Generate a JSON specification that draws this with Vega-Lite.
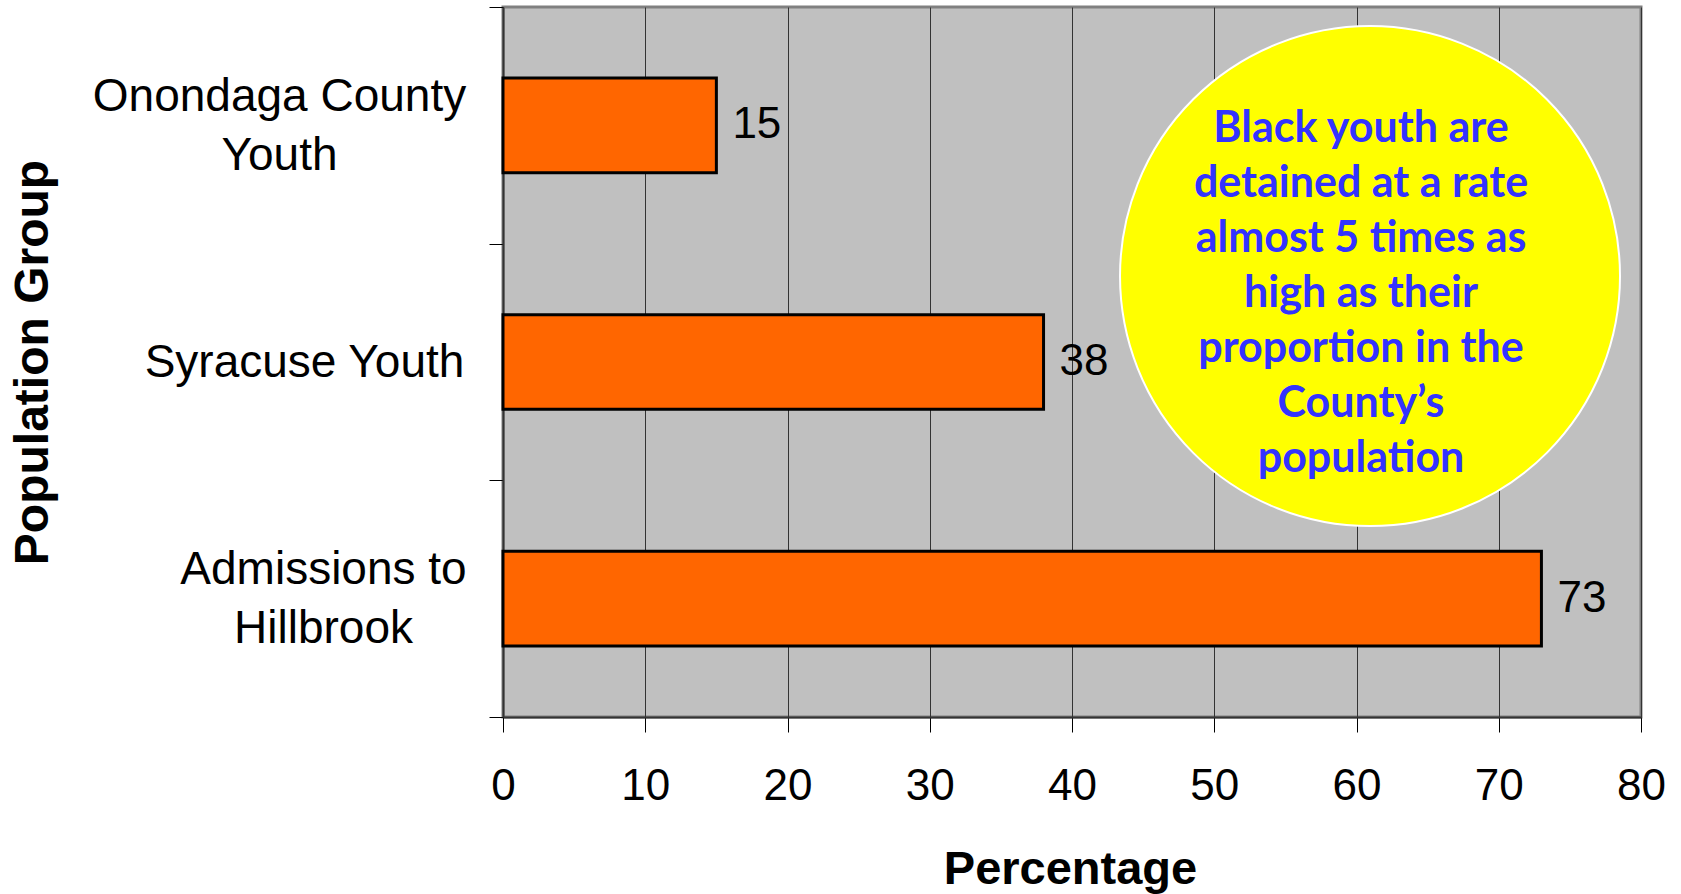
{
  "$schema": "https://vega.github.io/schema/vega-lite/v6.json",
  "width": 1138,
  "height": 710,
  "autosize": {"type": "none"},
  "padding": {"left": 503, "top": 7, "right": 40, "bottom": 177},
  "background": "white",
  "config": {
    "font": "Liberation Sans",
    "view": {"fill": "#C0C0C0", "stroke": "#808080", "strokeWidth": 3}
  },
  "encoding": {
    "x": {
      "field": "pct",
      "type": "quantitative",
      "scale": {"domain": [0, 80], "nice": false},
      "axis": {
        "title": "Percentage",
        "titleFontSize": 47,
        "titleFontWeight": "bold",
        "titleColor": "black",
        "titleX": 567,
        "titleY": 166,
        "titleAlign": "center",
        "titleBaseline": "alphabetic",
        "values": [0, 10, 20, 30, 40, 50, 60, 70, 80],
        "labelFontSize": 44,
        "labelColor": "black",
        "labelPadding": 32,
        "labelFlush": false,
        "tickSize": 15,
        "tickColor": "black",
        "grid": true,
        "gridColor": "#333333",
        "gridOpacity": 1,
        "domainColor": "#333333",
        "domainWidth": 2
      }
    }
  },
  "layer": [
    {
      "data": {
        "values": [
          {"group": "Onondaga County Youth", "pct": 15},
          {"group": "Syracuse Youth", "pct": 38},
          {"group": "Admissions to Hillbrook", "pct": 73}
        ]
      },
      "encoding": {
        "y": {
          "field": "group",
          "type": "nominal",
          "sort": null,
          "scale": {"paddingInner": 0, "paddingOuter": 0},
          "axis": {
            "title": "Population Group",
            "titleFontSize": 48,
            "titleFontWeight": "bold",
            "titleColor": "black",
            "titleAngle": -90,
            "titleX": -470,
            "titleY": 355,
            "titleAlign": "center",
            "titleBaseline": "middle",
            "labelFontSize": 46,
            "labelColor": "black",
            "labelLineHeight": 59,
            "labelLimit": 0,
            "labelAlign": "center",
            "labelPadding": {"expr": "datum.value == 'Onondaga County Youth' ? 210 : datum.value == 'Admissions to Hillbrook' ? 166 : 185"},
            "labelOffset": {"expr": "datum.value == 'Syracuse Youth' ? 0 : -29"},
            "labelExpr": "datum.value == 'Onondaga County Youth' ? ['Onondaga County', 'Youth'] : datum.value == 'Admissions to Hillbrook' ? ['Admissions to', 'Hillbrook'] : datum.value",
            "tickBand": "extent",
            "tickSize": 14,
            "tickColor": "black",
            "domainColor": "#333333",
            "domainWidth": 2
          }
        }
      },
      "layer": [
        {
          "mark": {"type": "bar", "height": {"band": 0.4}, "fill": "#FF6600", "stroke": "black", "strokeWidth": 3}
        },
        {
          "mark": {"type": "text", "align": "left", "baseline": "middle", "dx": 16, "fontSize": 44, "color": "black"},
          "encoding": {"text": {"field": "pct", "type": "quantitative"}}
        }
      ]
    },
    {
      "data": {
        "values": [
          {"pct": 60.95, "ypos": 1.863, "note": "Black youth are\ndetained at a rate\nalmost 5 times as\nhigh as their\nproportion in the\nCounty’s\npopulation"}
        ]
      },
      "encoding": {
        "y": {
          "field": "ypos",
          "type": "quantitative",
          "scale": {"domain": [0, 3], "nice": false},
          "axis": null
        }
      },
      "layer": [
        {
          "mark": {"type": "point", "shape": "circle", "filled": true, "size": 250000, "fill": "#FFFF00", "stroke": "white", "strokeWidth": 2, "opacity": 1}
        },
        {
          "mark": {"type": "text", "font": "Lato", "fontWeight": "bold", "fontSize": 43, "color": "#3333FF", "align": "center", "baseline": "middle", "lineBreak": "\n", "lineHeight": 55, "dx": -9, "dy": -147},
          "encoding": {"text": {"field": "note"}}
        }
      ]
    }
  ],
  "resolve": {"scale": {"y": "independent"}}
}
